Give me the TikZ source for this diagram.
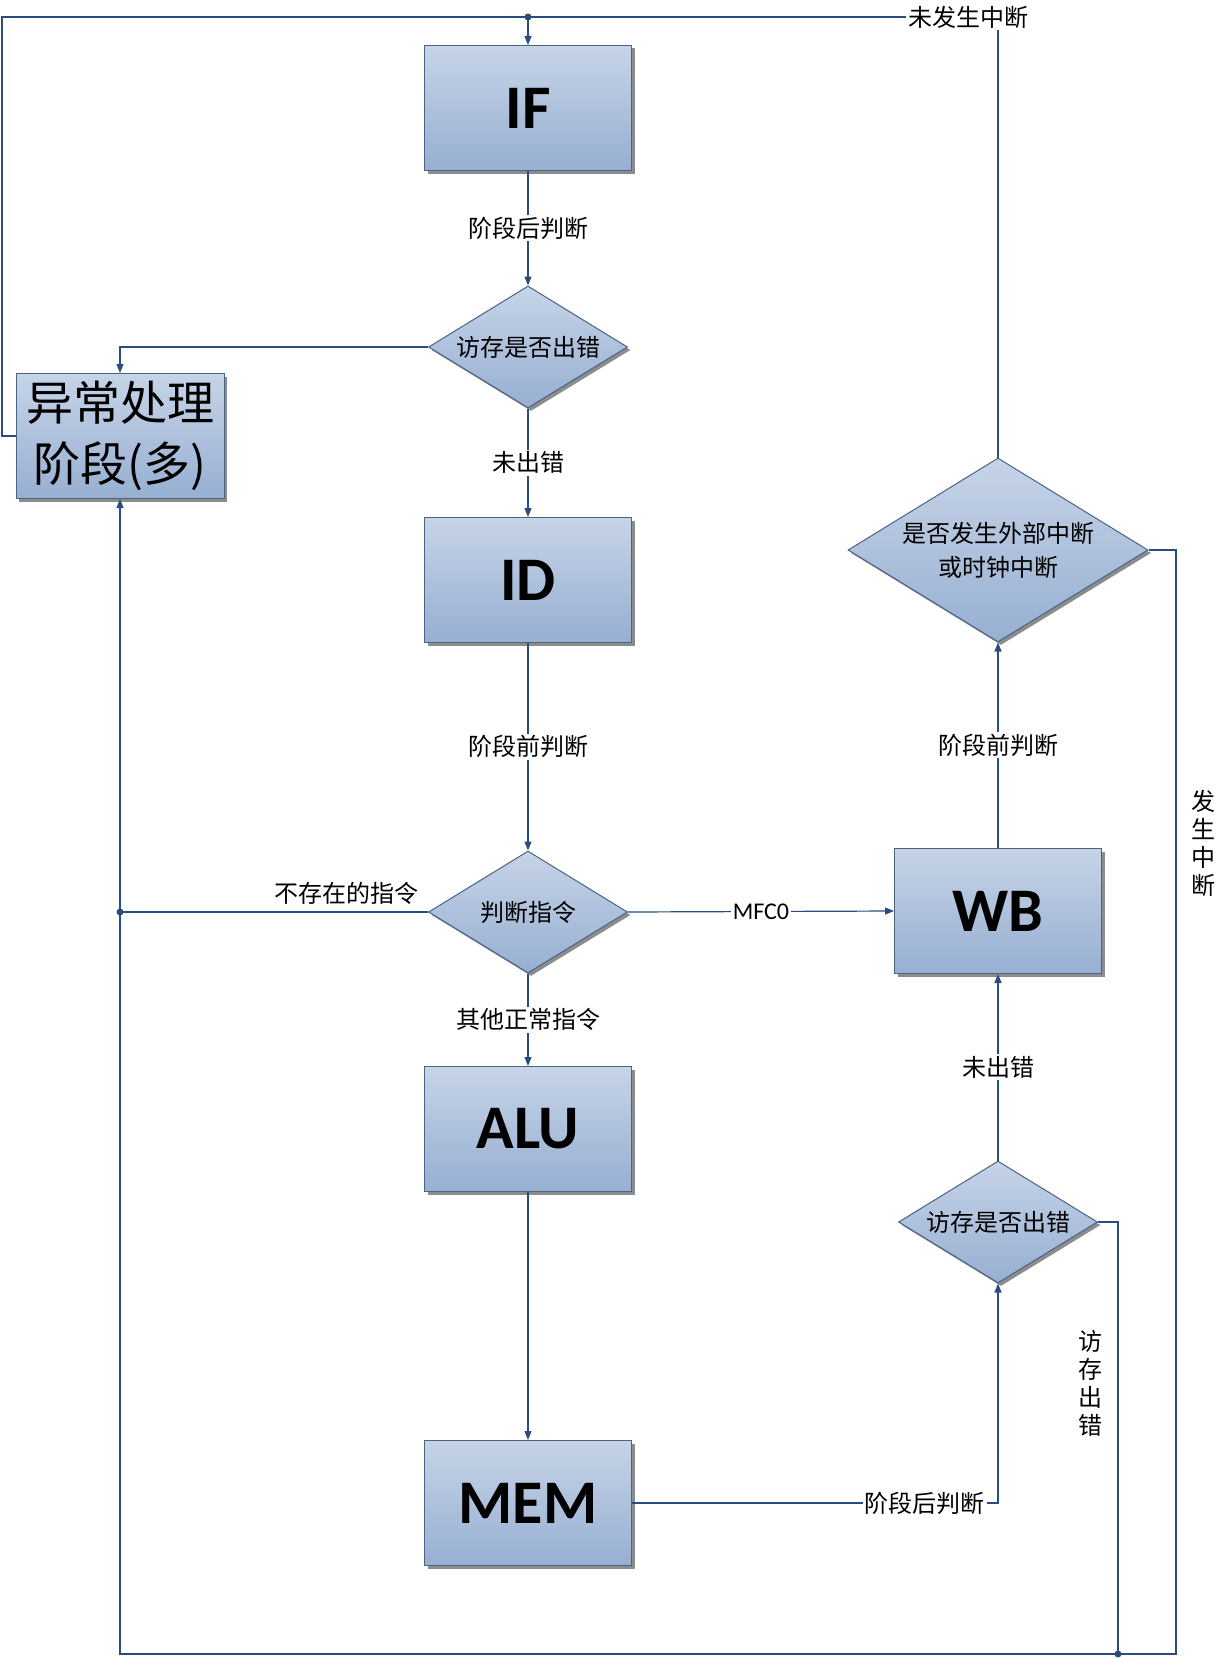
\documentclass[tikz,border=0pt]{standalone}
\usepackage{fontspec}
\setmainfont{Noto Sans CJK SC}
\newfontfamily\latinfont{Carlito}
\usepackage{xcolor}
\usepackage{tikz}
\usetikzlibrary{positioning,shapes.geometric,arrows.meta,shadows}
\definecolor{linecol}{HTML}{2B4C7E}
\definecolor{boxtop}{HTML}{C6D4E7}
\definecolor{boxbot}{HTML}{97AFD2}
\definecolor{boxline}{HTML}{4A6486}

\begin{document}
\begin{tikzpicture}[x=1pt,y=-1pt,
	stagebox/.style={rectangle, draw=boxline, line width=1pt, top color=boxtop, bottom color=boxbot, minimum width=207pt, minimum height=125pt, inner sep=0, drop shadow={shadow xshift=3pt, shadow yshift=-3pt, fill=black!45, opacity=1}, font=\latinfont\bfseries\fontsize{62}{62}\selectfont},
	decision/.style={diamond, aspect=1.6, draw=boxline, line width=1pt, top color=boxtop, bottom color=boxbot, minimum width=199pt, minimum height=122pt, inner sep=0, drop shadow={shadow xshift=3pt, shadow yshift=-3pt, fill=black!45, opacity=1}, align=center, font=\fontsize{24}{34}\selectfont},
	lab/.style={fill=white, inner sep=2pt, align=center, font=\fontsize{24}{28}\selectfont},
	wire/.style={draw=linecol, line width=1.2pt},
	arr/.style={wire, -{Triangle[length=9pt,width=7pt]}},
	jdot/.style={fill=linecol}]
	\fill[white] (0,0) rectangle (1217,1659);
	\useasboundingbox (0,0) rectangle (1217,1659);
	% stages
	\node[stagebox] (ifs) at (528,108) {IF};
	\node[stagebox] (ids) at (528,580) {ID};
	\node[stagebox] (alu) at (528,1129) {ALU};
	\node[stagebox] (mem) at (528,1503) {MEM};
	\node[stagebox] (wb) at (998,911) {WB};
	\node[stagebox, font=\fontsize{47}{61}\selectfont, align=center, minimum width=208pt] (exc) at (120,436) {异常处理\\阶段(多)};
	% checks
	\node[decision] (chk1) at (528,347) {访存是否出错};
	\node[decision] (chk2) at (528,912) {判断指令};
	\node[decision] (chk3) at (998,1222) {访存是否出错};
	\node[decision, minimum width=300pt, minimum height=184pt] (intr) at (998,550) {是否发生外部中断\\或时钟中断};
	\coordinate (topdot) at (528,17);
	\coordinate (middot) at (120,912);
	\coordinate (botdot) at (1118,1654);
	% main flow
	\draw[arr] (topdot) -- (ifs.north);
	\draw[arr] (ifs.south) -- node[lab] {阶段后判断} (chk1.north);
	\draw[arr] (chk1.south) -- node[lab] {未出错} (ids.north);
	\draw[arr] (ids.south) -- node[lab] {阶段前判断} (chk2.north);
	\draw[arr] (chk2.south) -- node[lab] {其他正常指令} (alu.north);
	\draw[arr] (alu.south) -- (mem.north);
	\draw[arr] (mem.east) -| node[lab, pos=0.4] {阶段后判断} (chk3.south);
	\draw[arr] (chk3.north) -- node[lab] {未出错} (wb.south);
	\draw[arr] (wb.north) -- node[lab] {阶段前判断} (intr.south);
	\draw[arr] (chk2.east) -- node[lab, font=\latinfont\fontsize{24}{28}\selectfont] {MFC0} (wb.west);
	% back to IF
	\draw[wire] (intr.north) |- (topdot);
	\draw[wire] (exc.west) -| (2,17) -- (topdot);
	\node[lab] (nolab) at (968,17) {未发生中断};
	% exceptions
	\draw[arr] (chk1.west) -| (exc.north);
	\draw[wire] (chk2.west) -- (middot);
	\node[lab, fill=none] (badlab) at (346,893) {不存在的指令};
	\draw[wire] (intr.east) -| (1176,1654) -- (botdot);
	\draw[wire] (chk3.east) -| (botdot);
	\draw[arr] (botdot) -| (exc.south);
	\node[lab, fill=none] (intlab) at (1203,843) {发\\生\\中\\断};
	\node[lab, fill=none] (memlab) at (1090,1383) {访\\存\\出\\错};
	\fill[jdot] (topdot) circle (3.5pt);
	\fill[jdot] (middot) circle (3.5pt);
	\fill[jdot] (botdot) circle (3.5pt);
\end{tikzpicture}
\end{document}
